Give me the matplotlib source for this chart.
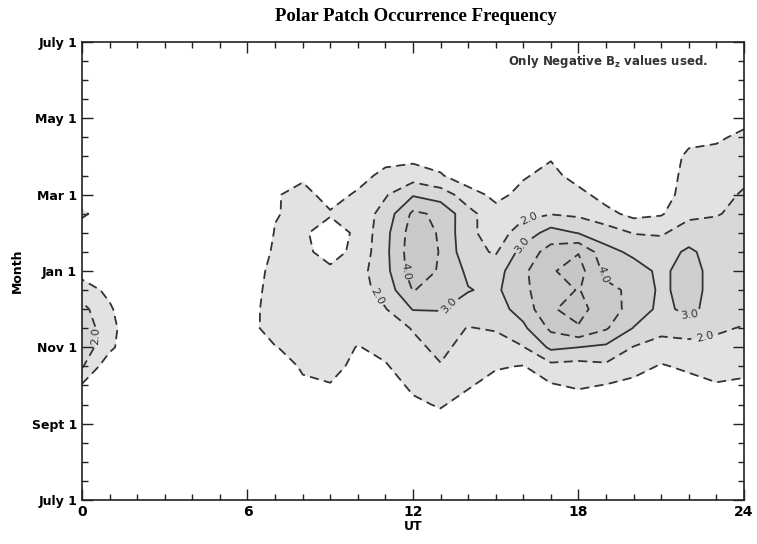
import matplotlib.pyplot as plt
import numpy as np

# grid of the map: UT hour columns, month rows (months after July 1)
ut = np.arange(0, 25)
month = np.arange(2.0, 10.5, 0.5)

# patch occurrence frequency, one row per month value (2.0 .. 10.0), one column per UT hour
freq = [
    [0, 0, 0, 0, 0, 0, 0, 0, 0, 0, 0, 0, 0.3, 0.6, 0.2, 0, 0, 0, 0, 0, 0, 0, 0, 0, 0],
    [0, 0, 0, 0, 0, 0, 0, 0, 0.2, 0.5, 0.1, 0.1, 0.8, 1.1, 0.6, 0.2, 0, 0.2, 0.4, 0.3, 0.1, 0, 0.1, 0.3, 0.2],
    [0.9, 0, 0, 0, 0, 0, 0, 0, 0.8, 0.95, 0.4, 0.5, 1.2, 1.5, 1.1, 0.6, 0.5, 0.9, 1.15, 0.95, 0.7, 0.4, 0.6, 0.9, 0.8],
    [2.1, 0.3, 0, 0, 0, 0, 0, 0.3, 1.15, 1.3, 0.75, 0.9, 1.6, 1.95, 1.4, 1.1, 0.95, 1.7, 1.6, 1.8, 1.4, 0.9, 1.2, 1.5, 1.3],
    [2.6, 1.25, 0, 0, 0, 0, 0.3, 0.95, 1.4, 1.5, 0.95, 1.3, 1.8, 2.2, 1.7, 1.5, 1.95, 3.2, 3.0, 2.8, 1.95, 1.6, 1.7, 1.8, 1.7],
    [2.6, 1.4, 0, 0, 0, 0, 0.6, 1.5, 1.6, 1.6, 1.4, 1.6, 2.05, 2.5, 1.95, 2.1, 2.8, 4.2, 4.9, 4.1, 2.95, 2.3, 2.4, 2.1, 1.95],
    [2.3, 1.15, 0, 0, 0, 0, 0.5, 1.6, 1.7, 1.6, 1.6, 1.95, 3.05, 3.05, 2.6, 2.6, 3.4, 4.9, 5.35, 4.4, 3.7, 2.7, 3.3, 2.5, 2.3],
    [1.5, 0.75, 0, 0, 0, 0, 0.3, 1.6, 1.7, 1.5, 1.6, 2.4, 4.05, 3.5, 3.05, 2.8, 3.8, 4.6, 5.05, 4.3, 3.75, 2.8, 3.4, 2.6, 2.4],
    [0.6, 0.2, 0, 0, 0, 0, 0.1, 1.5, 1.5, 1.2, 1.6, 2.7, 4.5, 3.9, 2.8, 2.6, 3.8, 4.9, 5.4, 3.7, 3.4, 2.8, 3.4, 2.6, 2.4],
    [0, 0, 0, 0, 0, 0, 0, 1.2, 1.25, 0.6, 1.3, 2.75, 4.6, 3.95, 2.3, 1.9, 3.4, 4.4, 4.95, 3.3, 2.8, 2.5, 3.2, 2.5, 2.4],
    [0, 0, 0, 0, 0, 0, 0, 1.05, 1.15, 0.5, 1.2, 2.7, 4.5, 3.9, 2.2, 1.6, 2.4, 3.4, 2.95, 2.5, 1.95, 1.9, 2.4, 2.3, 2.3],
    [1.3, 0, 0, 0, 0, 0, 0, 0.95, 1.2, 1.1, 1.35, 2.4, 4.2, 3.8, 2.3, 1.4, 1.8, 1.95, 1.8, 1.3, 0.7, 0.9, 1.8, 1.95, 2.2],
    [0, 0, 0, 0, 0, 0, 0, 0.9, 1.35, 0.6, 1.15, 1.9, 2.9, 2.5, 1.5, 0.7, 1.3, 1.6, 1.3, 0.6, 0.2, 0.4, 1.6, 1.7, 2.1],
    [0, 0, 0, 0, 0, 0, 0, 0.3, 0.8, 0.2, 0.6, 1.3, 1.5, 1.1, 0.3, 0.3, 0.9, 1.3, 0.6, 0.1, 0, 0.2, 1.5, 1.6, 1.8],
    [0, 0, 0, 0, 0, 0, 0, 0, 0, 0, 0.2, 0.6, 0.7, 0.5, 0, 0, 0.4, 0.9, 0.1, 0, 0, 0.1, 1.3, 1.4, 1.6],
    [0, 0, 0, 0, 0, 0, 0, 0, 0, 0, 0, 0.1, 0.2, 0.1, 0, 0, 0, 0.3, 0, 0, 0, 0, 0.6, 0.8, 1.3],
    [0, 0, 0, 0, 0, 0, 0, 0, 0, 0, 0, 0, 0, 0, 0, 0, 0, 0, 0, 0, 0, 0, 0, 0.1, 0.6],
]

month_ticks = [0, 2, 4, 6, 8, 10, 12]
month_labels = ['July 1', 'Sept 1', 'Nov 1', 'Jan 1', 'Mar 1', 'May 1', 'July 1']
ut_ticks = [0, 6, 12, 18, 24]

Z = np.array(freq)

fig = plt.figure(figsize=(7.57, 5.44), dpi=100)
ax = fig.add_axes([0.1083, 0.0809, 0.8745, 0.8419])

ax.contourf(ut, month, Z, levels=[1, 2, 3, 4, 5, 6],
            colors=['#e2e2e2', '#d8d8d8', '#cfcfcf', '#c9c9c9', '#c6c6c6'])

dash = (0, (5, 3))
line_style = {1: dash, 2: dash, 3: 'solid', 4: dash, 5: dash}
# where the level labels sit (one contour set per level)
label_spots = {
    2: [(0.5, 4.3), (10.6, 5.3), (16.2, 7.35), (22.6, 4.25)],
    3: [(13.5, 5.0), (15.9, 6.7), (22.0, 4.85)],
    4: [(11.8, 6.0), (18.85, 5.9)],
}
for lev, ls in line_style.items():
    cs = ax.contour(ut, month, Z, levels=[lev], colors='#333333', linewidths=1.3,
                    linestyles=[ls])
    if lev in label_spots:
        ax.clabel(cs, fmt='%.1f', fontsize=8, inline=True, manual=label_spots[lev])

ax.set_xlim(0, 24)
ax.set_ylim(0, 12)
ax.set_xticks(ut_ticks)
ax.set_xticks(np.arange(0, 25, 1), minor=True)
ax.set_yticks(month_ticks)
ax.set_yticklabels(month_labels)
ax.set_yticks(np.arange(0, 12.5, 0.5), minor=True)
ax.tick_params(which='both', direction='in', top=True, right=True, width=1, color='#222222')
ax.tick_params(which='major', length=8)
ax.tick_params(which='minor', length=4.5)
ax.tick_params(axis='both', labelsize=9)
for lab in ax.get_xticklabels():
    lab.set_fontweight('bold')
    lab.set_fontsize(10)
for lab in ax.get_yticklabels():
    lab.set_fontweight('bold')
for sp in ax.spines.values():
    sp.set_linewidth(1.2)
    sp.set_color('#222222')

ax.set_xlabel('UT', fontsize=9, fontweight='bold', labelpad=1)
ax.set_ylabel('Month', fontsize=9, fontweight='bold', labelpad=6)
ax.text(0.795, 0.958, 'Only Negative B$_\\mathbf{z}$ values used.', transform=ax.transAxes,
        ha='center', va='center', fontsize=8.5, fontweight='bold', color='#333333')
fig.suptitle('Polar Patch Occurrence Frequency', x=0.55, y=0.985,
             fontsize=13.5, fontweight='bold', family='Liberation Serif')

fig.savefig('out.png', dpi=100)
